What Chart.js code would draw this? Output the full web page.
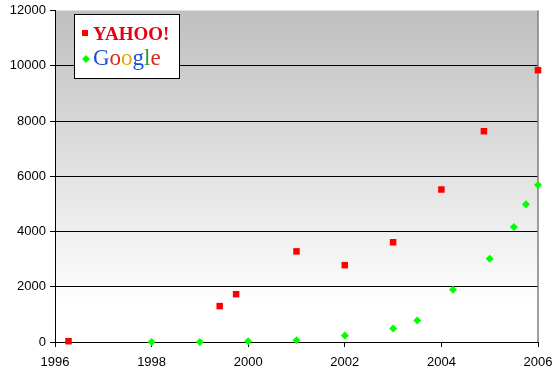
<!DOCTYPE html>
<html>
<head>
<meta charset="utf-8">
<script src="https://cdn.jsdelivr.net/npm/chart.js@4"></script>
<style>
  html, body { margin: 0; padding: 0; background: #fff; }
  #wrap { width: 559px; height: 377px; position: relative; }
</style>
</head>
<body>
<div id="wrap"><canvas id="chart"></canvas></div>
<script>
// ===== DATA =====
const yahooYears = [1996.28, 1999.41, 1999.75, 2001.0, 2002.0, 2003.0, 2004.0, 2004.88, 2006.0];
const yahooValues = [30, 1300, 1730, 3280, 2780, 3610, 5520, 7630, 9840];

const googleYears = [1998.0, 1999.0, 2000.0, 2001.0, 2002.0, 2003.0, 2003.5, 2004.24, 2005.0, 2005.5, 2005.75, 2006.0];
const googleValues = [0, 0, 30, 65, 235, 490, 775, 1890, 3010, 4160, 4990, 5680];

const yearTicks = [1996, 1998, 2000, 2002, 2004, 2006];
const valueTicks = [0, 2000, 4000, 6000, 8000, 10000, 12000];

function toPoints(xs, ys) {
  return xs.map((x, i) => ({ x: x, y: ys[i] }));
}

document.addEventListener("DOMContentLoaded", function () {
  const ctx = document.getElementById("chart").getContext("2d");

  /* ===== nền xám chuyển trắng + viền phải ===== */
  const plotBackground = {
    id: "plotBackground",
    beforeDatasetsDraw(chart) {
      const { ctx, chartArea: a } = chart;
      ctx.save();
      const g = ctx.createLinearGradient(0, a.top, 0, a.bottom);
      g.addColorStop(0, "#bfbfbf");
      g.addColorStop(0.9, "#ffffff");
      g.addColorStop(1, "#ffffff");
      ctx.globalCompositeOperation = "destination-over";
      ctx.fillStyle = g;
      ctx.fillRect(a.left, a.top, a.right - a.left, a.bottom - a.top);
      ctx.globalCompositeOperation = "source-over";
      // right border
      ctx.strokeStyle = "#808080";
      ctx.lineWidth = 1.5;
      ctx.beginPath();
      ctx.moveTo(a.right, a.top);
      ctx.lineTo(a.right, a.bottom);
      ctx.stroke();
      ctx.restore();
    },
  };

  /* ===== legend dạng logo ===== */
  const logoLegend = {
    id: "logoLegend",
    afterDraw(chart) {
      const c = chart.ctx;
      c.save();
      c.fillStyle = "#fff";
      c.fillRect(74, 14, 105, 64);
      c.strokeStyle = "#000";
      c.lineWidth = 1;
      c.strokeRect(74.5, 14.5, 105, 64);

      // marker yahoo
      c.fillStyle = "#ff0000";
      c.fillRect(82, 30, 6, 6);
      c.font = "bold 19px 'Liberation Serif', 'DejaVu Serif', serif";
      c.textBaseline = "alphabetic";
      c.fillStyle = "#e60012";
      c.fillText("YAHOO!", 93, 40);

      // marker google
      c.fillStyle = "#00ff00";
      c.beginPath();
      c.moveTo(86, 55);
      c.lineTo(90, 59);
      c.lineTo(86, 63);
      c.lineTo(82, 59);
      c.closePath();
      c.fill();

      const letters = ["G", "o", "o", "g", "l", "e"];
      const colors = ["#1a4fd8", "#d62c1a", "#e8a800", "#1a4fd8", "#2e9d2e", "#d62c1a"];
      c.font = "23px 'Liberation Serif', 'DejaVu Serif', serif";
      let x = 93;
      letters.forEach((ch, i) => {
        c.fillStyle = colors[i];
        c.fillText(ch, x, 65);
        x += c.measureText(ch).width;
      });
      c.restore();
    },
  };

  new Chart(ctx, {
    type: "scatter",
    data: {
      datasets: [
        {
          label: "Yahoo",
          data: toPoints(yahooYears, yahooValues),
          pointStyle: "rect",
          pointRadius: 4.6,
          pointHoverRadius: 4.6,
          backgroundColor: "#ff0000",
          borderColor: "#ff0000",
          borderWidth: 0,
          clip: false,
        },
        {
          label: "Google",
          data: toPoints(googleYears, googleValues),
          pointStyle: "rectRot",
          pointRadius: 4,
          pointHoverRadius: 4,
          backgroundColor: "#00ff00",
          borderColor: "#00ff00",
          borderWidth: 0,
          clip: false,
        },
      ],
    },
    options: {
      responsive: true,
      maintainAspectRatio: false,
      animation: false,
      layout: { padding: { top: 4, right: 21, left: 0, bottom: 0 } },
      scales: {
        x: {
          type: "linear",
          min: yearTicks[0],
          max: yearTicks[yearTicks.length - 1],
          afterFit: (s) => {
            s.height = 35;
            s.paddingLeft = 0;
            s.paddingRight = 0;
          },
          afterBuildTicks: (s) => { s.ticks = yearTicks.map((v) => ({ value: v })); },
          grid: { drawOnChartArea: false, drawTicks: true, tickLength: 5, tickColor: "#000" },
          border: { color: "#000", width: 1 },
          ticks: {
            color: "#000",
            padding: 8,
            maxRotation: 0,
            font: { family: "'Liberation Sans', Arial, sans-serif", size: 13 },
            callback: (v) => String(v),
          },
        },
        y: {
          min: valueTicks[0],
          max: valueTicks[valueTicks.length - 1],
          afterFit: (s) => { s.width = 55; },
          afterBuildTicks: (s) => { s.ticks = valueTicks.map((v) => ({ value: v })); },
          grid: {
            color: (c) => (c.tick && (c.tick.value === 0 || c.tick.value === 12000) ? "rgba(0,0,0,0)" : "#000"),
            tickColor: "#000",
            tickLength: 5,
          },
          border: { color: "#000", width: 1 },
          ticks: {
            color: "#000",
            padding: 4,
            font: { family: "'Liberation Sans', Arial, sans-serif", size: 13, lineHeight: 1 },
            callback: (v) => String(v),
          },
        },
      },
      plugins: {
        legend: { display: false },
        tooltip: { enabled: false },
      },
    },
    plugins: [plotBackground, logoLegend],
  });
});
</script>
</body>
</html>
